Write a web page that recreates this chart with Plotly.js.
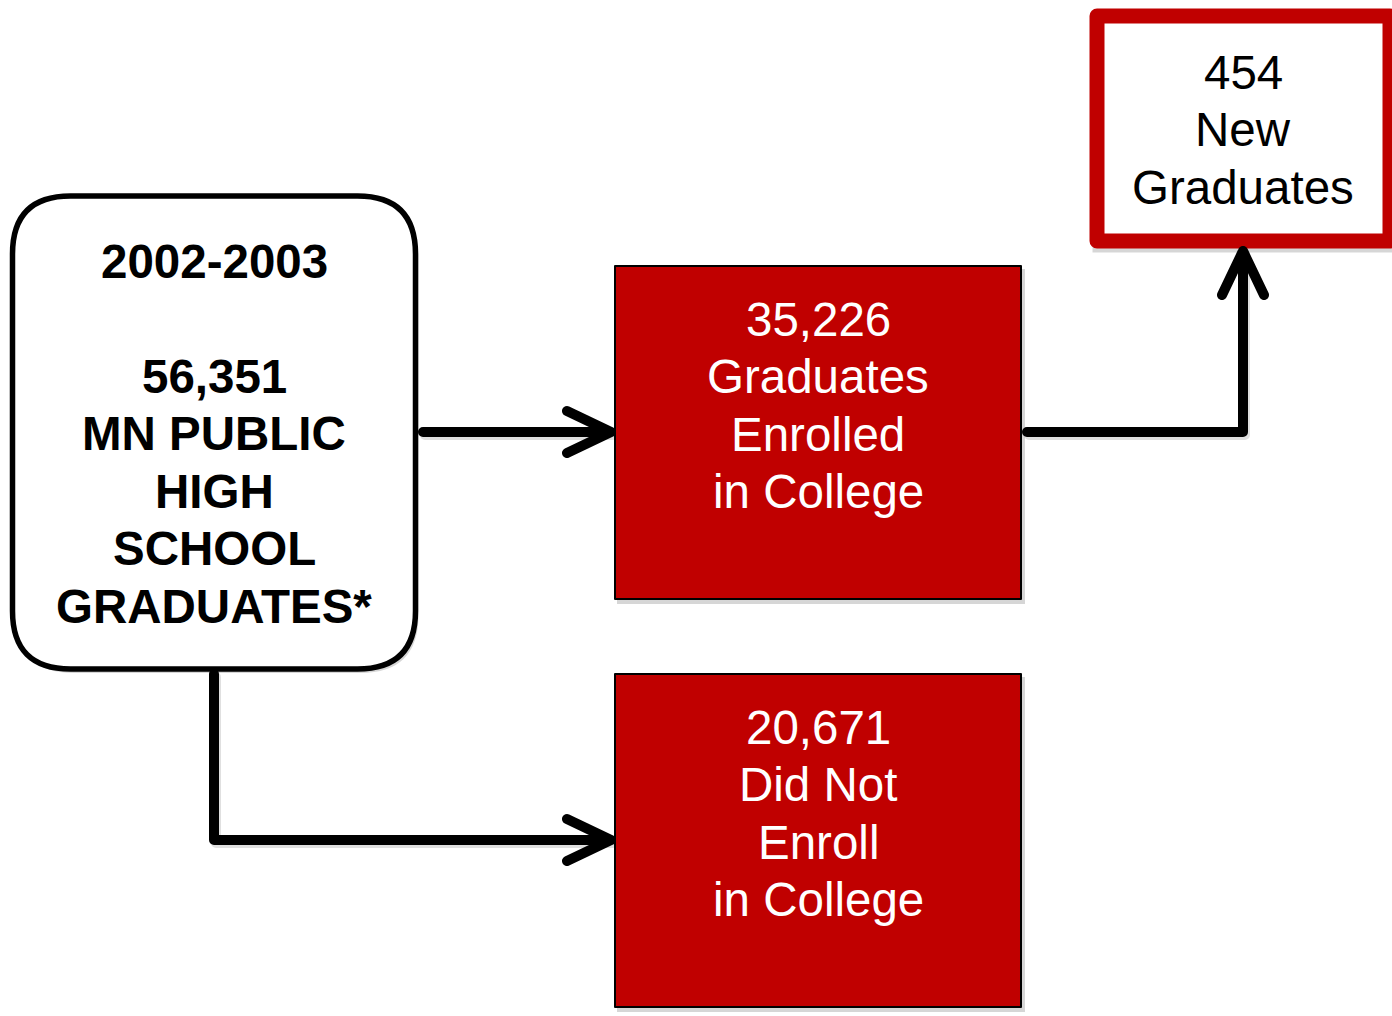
<!DOCTYPE html>
<html>
<head>
<meta charset="utf-8">
<script src="https://cdn.plot.ly/plotly-3.0.1.min.js"></script>
<style>
html, body { margin: 0; padding: 0; background: #ffffff; }
#chart { width: 1392px; height: 1016px; }
.shapelayer path { stroke-linecap: round; stroke-linejoin: round; }
</style>
</head>
<body>
<div id="chart"></div>
<script>
// ---- data ----
const nodeNames   = ['source', 'enrolled', 'notEnrolled', 'newGrads'];
const nodeCounts  = [56351, 35226, 20671, 454];
const nodeHeaders = ['2002-2003', null, null, null];
const nodeLabels  = [
  ['MN PUBLIC', 'HIGH', 'SCHOOL', 'GRADUATES*'],
  ['Graduates', 'Enrolled', 'in College'],
  ['Did Not', 'Enroll', 'in College'],
  ['New', 'Graduates']
];
const flowFrom = ['source', 'source', 'enrolled'];
const flowTo   = ['enrolled', 'notEnrolled', 'newGrads'];

// ---- layout / style (positions in pixel space of the 1392x1016 canvas) ----
const RED = '#C00000';
const FONT = 'Liberation Sans, Arial, sans-serif';
const FS = 47.5;
const LINE = 57.5;
const TEXT_DY = -1; // vertical calibration
const boxes = {
  source:      {x0: 12.5, y0: 196, x1: 415.5, y1: 669, r: 58},
  enrolled:    {x0: 615,  y0: 266, x1: 1021,  y1: 599},
  notEnrolled: {x0: 615,  y0: 674, x1: 1021,  y1: 1007},
  newGrads:    {x0: 1097, y0: 16,  x1: 1390,  y1: 241}
};
const textStart = {source: 262, enrolled: 320, notEnrolled: 728, newGrads: 73};
const textX = {source: 214, enrolled: 818, notEnrolled: 818, newGrads: 1243};
const arrowPaths = [
  [[423, 432], [611, 432]],
  [[214, 674], [214, 840], [611, 840]],
  [[1027, 432], [1243, 432], [1243, 251]]
];

function roundRect(b) {
  const r = b.r;
  return `M${b.x0 + r},${b.y0} L${b.x1 - r},${b.y0} Q${b.x1},${b.y0} ${b.x1},${b.y0 + r} ` +
         `L${b.x1},${b.y1 - r} Q${b.x1},${b.y1} ${b.x1 - r},${b.y1} ` +
         `L${b.x0 + r},${b.y1} Q${b.x0},${b.y1} ${b.x0},${b.y1 - r} ` +
         `L${b.x0},${b.y0 + r} Q${b.x0},${b.y0} ${b.x0 + r},${b.y0} Z`;
}
function shift(b, dx, dy) {
  return Object.assign({}, b, {x0: b.x0 + dx, x1: b.x1 + dx, y0: b.y0 + dy, y1: b.y1 + dy});
}

const shapes = [];
// shadows
const sh = 'rgba(0,0,0,0.16)';
shapes.push({type: 'path', xref: 'x', yref: 'y', path: roundRect(shift(boxes.source, 3, 4)), fillcolor: sh, line: {width: 0}});
['enrolled', 'notEnrolled', 'newGrads'].forEach(k => {
  const b = shift(boxes[k], 3, 4);
  const pad = k === 'newGrads' ? 7.5 : 1;
  shapes.push({type: 'rect', xref: 'x', yref: 'y', x0: b.x0 - pad, x1: b.x1 + pad, y0: b.y0 - pad, y1: b.y1 + pad, fillcolor: sh, line: {width: 0}});
});
// arrow shadows
arrowPaths.forEach(pts => {
  const d = 'M' + pts.map(p => `${p[0] + 2},${p[1] + 3}`).join(' L');
  shapes.push({type: 'path', xref: 'x', yref: 'y', path: d, line: {color: 'rgba(0,0,0,0.12)', width: 10}});
});
// boxes
shapes.push({type: 'path', xref: 'x', yref: 'y', path: roundRect(boxes.source), fillcolor: '#ffffff', line: {color: '#000000', width: 5.5}});
['enrolled', 'notEnrolled'].forEach(k => {
  const b = boxes[k];
  shapes.push({type: 'rect', xref: 'x', yref: 'y', x0: b.x0, x1: b.x1, y0: b.y0, y1: b.y1, fillcolor: RED, line: {color: '#000000', width: 2}});
});
{
  const b = boxes.newGrads;
  shapes.push({type: 'rect', xref: 'x', yref: 'y', x0: b.x0, x1: b.x1, y0: b.y0, y1: b.y1, fillcolor: '#ffffff', line: {color: RED, width: 15}});
}
// arrows with chevron heads
arrowPaths.forEach(pts => {
  let d = 'M' + pts.map(p => `${p[0]},${p[1]}`).join(' L');
  const a = pts[pts.length - 2], t = pts[pts.length - 1];
  const dx = Math.sign(t[0] - a[0]), dy = Math.sign(t[1] - a[1]);
  const back = 44, half = 21;
  const p1 = [t[0] - dx * back - dy * half, t[1] - dy * back - dx * half];
  const p2 = [t[0] - dx * back + dy * half, t[1] - dy * back + dx * half];
  d += ` M${p1[0]},${p1[1]} L${t[0]},${t[1]} L${p2[0]},${p2[1]}`;
  shapes.push({type: 'path', xref: 'x', yref: 'y', path: d, line: {color: '#000000', width: 10}});
});

// text
const annotations = [];
nodeNames.forEach((k, i) => {
  const lines = [];
  if (nodeHeaders[i]) { lines.push(nodeHeaders[i]); lines.push(''); }
  lines.push(nodeCounts[i].toLocaleString('en-US'));
  nodeLabels[i].forEach(s => lines.push(s));
  const bold = k === 'source';
  const color = (k === 'enrolled' || k === 'notEnrolled') ? '#ffffff' : '#000000';
  lines.forEach((s, j) => {
    if (!s) return;
    annotations.push({
      xref: 'x', yref: 'y', x: textX[k], y: textStart[k] + j * LINE + TEXT_DY,
      text: s, showarrow: false, xanchor: 'center', yanchor: 'middle',
      font: {family: FONT, size: FS, color: color, weight: bold ? 'bold' : 'normal'}
    });
  });
});

const layout = {
  width: 1392, height: 1016,
  margin: {l: 0, r: 0, t: 0, b: 0},
  paper_bgcolor: '#ffffff', plot_bgcolor: '#ffffff',
  showlegend: false,
  xaxis: {range: [0, 1392], visible: false, fixedrange: true},
  yaxis: {range: [1016, 0], visible: false, fixedrange: true},
  shapes: shapes,
  annotations: annotations
};
Plotly.newPlot('chart', [], layout, {displayModeBar: false, staticPlot: true});
</script>
</body>
</html>
